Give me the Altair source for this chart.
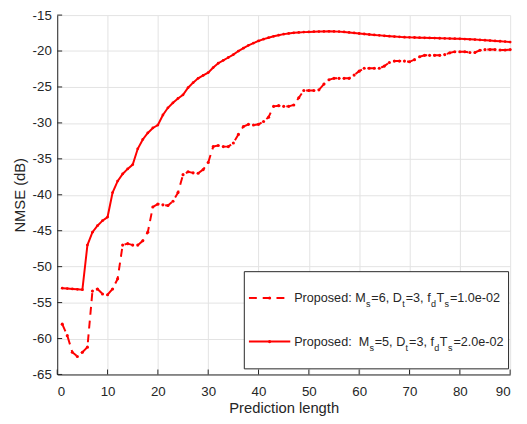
import altair as alt
import pandas as pd

# ---------------- data ----------------
pred_len = list(range(1, 91))

nmse_ms6 = [-58.0, -59.6, -61.9, -62.5, -61.9, -61.2, -53.4, -53.1, -53.8, -53.9,
            -53.1, -51.7, -47.0, -46.8, -47.0, -47.0, -46.4, -45.2, -41.7, -41.3,
            -41.4, -41.5, -40.9, -39.7, -37.2, -36.8, -36.95, -37.0, -36.5, -35.5,
            -33.3, -33.15, -33.3, -33.3, -32.8, -31.6, -30.5, -30.2, -30.3, -30.2,
            -29.8, -29.2, -27.7, -27.6, -27.7, -27.7, -27.5, -26.5, -25.5, -25.5,
            -25.5, -25.4, -24.6, -24.0, -23.8, -23.8, -23.8, -23.8, -23.35, -22.8,
            -22.4, -22.4, -22.4, -22.4, -22.1, -21.6, -21.4, -21.4, -21.4, -21.5,
            -21.2, -20.8, -20.6, -20.6, -20.6, -20.6, -20.5, -20.25, -20.1, -20.1,
            -20.1, -20.2, -20.2, -19.9, -19.8, -19.8, -19.8, -19.85, -19.85, -19.8]

nmse_ms5 = [-53.0, -53.05, -53.1, -53.15, -53.2, -47.0, -45.2, -44.3, -43.6, -43.1,
            -39.7, -38.1, -37.1, -36.4, -35.8, -33.6, -32.3, -31.4, -30.7, -30.3,
            -28.9, -27.9, -27.2, -26.6, -26.1, -25.1, -24.4, -23.8, -23.4, -23.0,
            -22.3, -21.7, -21.3, -20.9, -20.5, -20.0, -19.6, -19.2, -18.9, -18.6,
            -18.35, -18.15, -17.95, -17.8, -17.65, -17.55, -17.47, -17.41, -17.37, -17.34,
            -17.31, -17.29, -17.27, -17.26, -17.27, -17.3, -17.35, -17.41, -17.48, -17.56,
            -17.63, -17.7, -17.76, -17.82, -17.88, -17.94, -17.99, -18.03, -18.07, -18.1,
            -18.12, -18.14, -18.16, -18.18, -18.2, -18.22, -18.24, -18.26, -18.28, -18.3,
            -18.33, -18.37, -18.41, -18.45, -18.49, -18.54, -18.59, -18.64, -18.69, -18.75]

x_ticks = [0, 10, 20, 30, 40, 50, 60, 70, 80, 90]
y_ticks = [-65, -60, -55, -50, -45, -40, -35, -30, -25, -20, -15]

legend_row1 = [("Proposed:", "main"), ("M", "main"), ("s", "sub"), ("=6,", "main"),
               ("D", "main"), ("t", "sub"), ("=3,", "main"), ("f", "main"),
               ("d", "sub"), ("T", "main"), ("s", "sub"), ("=1.0e-02", "main")]
legend_row2 = [("Proposed:", "main"), ("M", "main"), ("s", "sub"), ("=5,", "main"),
               ("D", "main"), ("t", "sub"), ("=3,", "main"), ("f", "main"),
               ("d", "sub"), ("T", "main"), ("s", "sub"), ("=2.0e-02", "main")]

# ---------------- layout / style ----------------
W, H = 460, 365
OX, OY = 58.3, 11.7  # page position of plot origin
FONT = "Liberation Sans"
TXT = "#262626"
RED = "#ff0000"
DASH = [8, 6]

df6 = pd.DataFrame({"x": pred_len, "y": nmse_ms6})
df5 = pd.DataFrame({"x": pred_len, "y": nmse_ms5})
one = pd.DataFrame({"a": [0]})

xs = alt.Scale(domain=[0, 90], nice=False, zero=False)
ys = alt.Scale(domain=[-65, -15], nice=False, zero=False)

x_axis = alt.Axis(values=x_ticks, title="Prediction length", labelExpr="'' + datum.value",
                  labelPadding=10, titleY=38.3, titleBaseline="alphabetic")
y_axis = alt.Axis(values=y_ticks, title="NMSE (dB)", labelExpr="'' + datum.value",
                  labelPadding=6, titleX=-33.3, titleY=H / 2, titleBaseline="alphabetic",
                  titleAngle=270)

X = alt.X("x:Q", scale=xs, axis=x_axis)
Y = alt.Y("y:Q", scale=ys, axis=y_axis)

line5 = alt.Chart(df5).mark_line(color=RED, strokeWidth=2).encode(x=X, y=Y)
pts5 = alt.Chart(df5).mark_point(filled=True, color=RED, size=8, opacity=1).encode(x=X, y=Y)
line6 = alt.Chart(df6).mark_line(color=RED, strokeWidth=2, strokeDash=DASH).encode(x=X, y=Y)
pts6 = alt.Chart(df6).mark_point(filled=True, color=RED, size=10, opacity=1).encode(x=X, y=Y)

xt = alt.Chart(pd.DataFrame({"x": x_ticks})).mark_rule(color=TXT, strokeWidth=1).encode(
    x=X, y=alt.value(H), y2=alt.value(H - 5))
yt = alt.Chart(pd.DataFrame({"y": y_ticks})).mark_rule(color=TXT, strokeWidth=1).encode(
    y=Y, x=alt.value(0), x2=alt.value(5))

# ---------------- manual legend ----------------
box = alt.Chart(one).mark_rect(fill="white", stroke=TXT, strokeWidth=1).encode(
    x=alt.value(248.3 - OX), x2=alt.value(516.7 - OX),
    y=alt.value(272.3 - OY), y2=alt.value(371 - OY))

leg_layers = []
for row_y, dash in [(299.0, DASH), (343.3, None)]:
    kw = dict(color=RED, strokeWidth=2)
    if dash:
        kw["strokeDash"] = dash
    leg_layers.append(alt.Chart(one).mark_rule(**kw).encode(
        x=alt.value(253 - OX), x2=alt.value(295 - OX), y=alt.value(row_y - OY)))
    leg_layers.append(alt.Chart(one).mark_point(filled=True, color=RED, size=10, opacity=1).encode(
        x=alt.value(274 - OX), y=alt.value(row_y - OY)))

piece_x = [299.0, 361.0, 371.9, 377.3, 399.1, 408.6, 412.2, 434.0, 437.8, 443.4, 451.6, 457.2]
for row, base, shift in [(legend_row1, 303.0, 0.0), (legend_row2, 347.3, 3.5)]:
    for i, (txt, kind) in enumerate(row):
        px = piece_x[i] + (shift if i > 0 else 0.0)
        py = base + (5.5 if kind == "sub" else 0.0)
        fs = 9.2 if kind == "sub" else 12.8
        leg_layers.append(alt.Chart(one).mark_text(
            text=txt, align="left", baseline="alphabetic", font=FONT, fontSize=fs, color=TXT
        ).encode(x=alt.value(px - OX), y=alt.value(py - OY)))

chart = alt.layer(line6, pts6, line5, pts5, xt, yt, box, *leg_layers).properties(
    width=W, height=H,
    padding={"left": 50, "top": 4, "right": 9, "bottom": 40},
    autosize=alt.AutoSizeParams(type="none"),
).configure_view(stroke=None).configure_axis(
    domainColor=TXT, domainWidth=1, gridColor="#e3e3e3", gridWidth=1, ticks=False,
    labelFont=FONT, labelFontSize=13.5, labelColor=TXT,
    titleFont=FONT, titleFontSize=15, titleFontWeight="normal", titleColor=TXT,
).configure_axisY(grid=True).configure_axisX(grid=True)

chart.save("out.html", embed_options={"renderer": "svg", "actions": False})
